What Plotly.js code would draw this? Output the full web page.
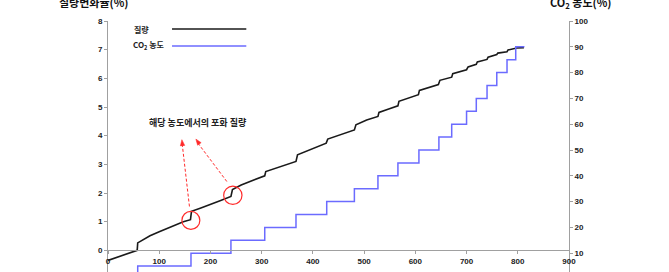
<!DOCTYPE html>
<html><head><meta charset="utf-8">
<script src="https://cdn.plot.ly/plotly-3.0.1.min.js"></script>
<style>html,body{margin:0;padding:0;overflow:hidden;background:#fff}</style>
</head><body><div id="chart" style="width:669px;height:300px"></div>
<script>
// Data
const massX = [0, 20, 40, 57, 58, 70, 82, 100, 115, 130, 147, 161, 163, 180, 199, 220, 240, 243, 260, 277, 292, 306, 308, 330, 349, 367, 370, 394, 410, 426, 429, 450, 467, 481, 484, 505, 527, 529, 548, 566, 568, 587, 606, 608, 626, 645, 648, 671, 673, 690, 700, 703, 719, 721, 740, 742, 759, 761, 779, 781, 796, 798, 812];
const massY = [-0.35, -0.22, -0.1, 0, 0.26, 0.4, 0.51, 0.65, 0.77, 0.88, 1.0, 1.07, 1.36, 1.47, 1.59, 1.74, 1.88, 2.12, 2.28, 2.4, 2.5, 2.6, 2.75, 2.89, 2.99, 3.1, 3.33, 3.5, 3.64, 3.74, 3.88, 4.02, 4.12, 4.2, 4.38, 4.55, 4.67, 4.81, 4.93, 5.04, 5.2, 5.32, 5.43, 5.58, 5.68, 5.78, 5.93, 6.04, 6.16, 6.24, 6.3, 6.4, 6.49, 6.57, 6.66, 6.74, 6.83, 6.88, 6.93, 6.99, 7.03, 7.06, 7.07];
const co2X = [0, 58, 162, 240, 306, 367, 427, 481, 527, 566, 607, 646, 671, 700, 719, 740, 759, 779, 796, 813];
const co2Y = [0, 5, 10, 15, 20, 25, 30, 35, 40, 45, 50, 55, 60, 65, 70, 75, 80, 85, 90, 90];
const xTicks = [0, 100, 200, 300, 400, 500, 600, 700, 800, 900];
const yLeftTicks = [0, 1, 2, 3, 4, 5, 6, 7, 8];
const yRightTicks = [10, 20, 30, 40, 50, 60, 70, 80, 90, 100];
const massName = '질량';
const co2Name = 'CO<sub>2</sub> 농도';
const leftTitle = '질량변화율(%)';
const rightTitle = 'CO<sub>2</sub> 농도(%)';
const noteText = '해당 농도에서의 포화 질량';

const KR = 'Noto Sans CJK KR, sans-serif';
const tickFont = {family: 'Liberation Sans, Arial, sans-serif', size: 8, color: '#222', weight: 'bold'};
const BLUE = '#6b6bff';
const RED = '#ff2a2a';

const W = 669, H = 300, ML = 108, MR = 100, MT = 21, MB = 21;
const xRange = [0, 900], yRange = [-1, 8];
const pxX = (W - ML - MR) / (xRange[1] - xRange[0]);
const pxY = (H - MT - MB) / (yRange[1] - yRange[0]);

// arrowhead triangle (data coords) pointing from tail to tip
function arrowHead(tx, ty, hx, hy, len, half) {
  const dx = (hx - tx) * pxX, dy = -(hy - ty) * pxY;
  const n = Math.hypot(dx, dy), ux = dx / n, uy = dy / n;
  const bx = -ux * len, by = -uy * len;
  const p1 = [bx - uy * half, by + ux * half];
  const p2 = [bx + uy * half, by - ux * half];
  const toD = p => [hx + p[0] / pxX, hy - p[1] / pxY];
  const a = toD(p1), b = toD(p2);
  return {type: 'path', xref: 'x', yref: 'y', fillcolor: RED, line: {color: RED, width: 0.5},
    path: `M${hx},${hy} L${a[0]},${a[1]} L${b[0]},${b[1]} Z`};
}
function dashed(tx, ty, hx, hy) {
  return {type: 'line', xref: 'x', yref: 'y', x0: tx, y0: ty, x1: hx, y1: hy,
    line: {color: RED, width: 1, dash: '3px,2px'}};
}

const traces = [
  {x: massX, y: massY, type: 'scatter', mode: 'lines', name: massName,
   line: {color: '#1a1a1a', width: 1.6}, yaxis: 'y', hoverinfo: 'skip'},
  {x: co2X, y: co2Y, type: 'scatter', mode: 'lines', name: co2Name,
   line: {color: BLUE, width: 1.5, shape: 'hv'}, yaxis: 'y2', hoverinfo: 'skip'}
];

const layout = {
  width: W, height: H,
  margin: {l: ML, r: MR, t: MT, b: MB},
  paper_bgcolor: '#fff', plot_bgcolor: '#fff',
  showlegend: false,
  xaxis: {range: xRange, tickvals: xTicks, ticks: 'outside', ticklen: 3, tickcolor: '#a0a0a0',
    showline: true, linecolor: '#a0a0a0', linewidth: 1, showgrid: false, zeroline: false,
    anchor: 'free', position: (0 - yRange[0]) / (yRange[1] - yRange[0]), tickfont: tickFont},
  yaxis: {range: yRange, tickvals: yLeftTicks, ticks: 'outside', ticklen: 3, tickcolor: '#a0a0a0',
    showline: true, linecolor: '#a0a0a0', linewidth: 1, showgrid: false, zeroline: false,
    tickfont: tickFont},
  yaxis2: {range: [0, 100], tickvals: yRightTicks, ticks: 'outside', ticklen: 3, tickcolor: '#a0a0a0',
    showline: true, linecolor: '#a0a0a0', linewidth: 1, showgrid: false, zeroline: false,
    overlaying: 'y', side: 'right', tickfont: tickFont},
  shapes: [
    // legend lines
    {type: 'line', xref: 'x', yref: 'y', x0: 125, x1: 270, y0: 7.72, y1: 7.72, line: {color: '#1a1a1a', width: 1.5}},
    {type: 'line', xref: 'x', yref: 'y', x0: 125, x1: 270, y0: 7.13, y1: 7.13, line: {color: BLUE, width: 1.5}},
    // circles
    {type: 'circle', xref: 'x', yref: 'y', x0: 144.3, x1: 179.3, y0: 0.73, y1: 1.36, line: {color: RED, width: 1.2}},
    {type: 'circle', xref: 'x', yref: 'y', x0: 225.8, x1: 261.6, y0: 1.6, y1: 2.24, line: {color: RED, width: 1.2}},
    // dashed arrows
    dashed(159, 1.53, 144.6, 3.75),
    dashed(232, 2.40, 173, 3.80),
    arrowHead(159, 1.53, 144.2, 3.86, 6, 2.2),
    arrowHead(232, 2.40, 171.5, 3.88, 6, 2.2)
  ],
  annotations: [
    {x: 46, y: 7.72, xref: 'x', yref: 'y', xanchor: 'left', yanchor: 'middle', showarrow: false,
     text: massName, font: {family: KR, size: 8, color: '#222', weight: 'bold'}},
    {x: 45, y: 7.13, xref: 'x', yref: 'y', xanchor: 'left', yanchor: 'middle', showarrow: false,
     text: co2Name, font: {family: KR, size: 8, color: '#222', weight: 'bold'}},
    {x: 176, y: 4.45, xref: 'x', yref: 'y', xanchor: 'center', yanchor: 'middle', showarrow: false,
     text: noteText, font: {family: KR, size: 9, color: '#222', weight: 'bold'}},
    {x: (94 - ML) / (W - ML - MR), y: 1, xref: 'paper', yref: 'paper', xanchor: 'center', yanchor: 'middle', yshift: 19,
     showarrow: false, text: leftTitle, font: {family: KR, size: 11, color: '#111', weight: 'bold'}},
    {x: 1, y: 1, xref: 'paper', yref: 'paper', xanchor: 'center', yanchor: 'middle', xshift: 11, yshift: 19,
     showarrow: false, text: rightTitle, font: {family: KR, size: 11, color: '#111', weight: 'bold'}}
  ]
};

Plotly.newPlot('chart', traces, layout, {displayModeBar: false, staticPlot: true});
</script>
</body></html>
